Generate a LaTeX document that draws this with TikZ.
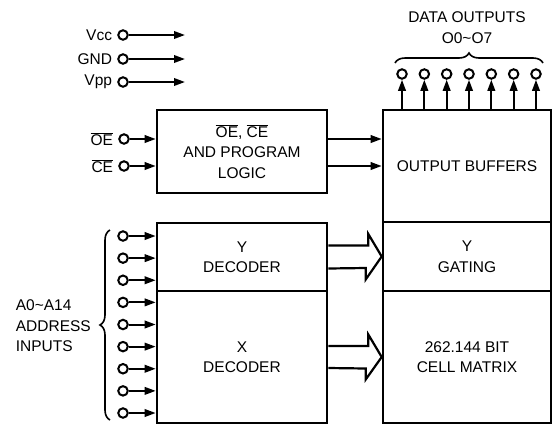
\documentclass[tikz,border=0pt]{standalone}
\usepackage{fontspec}
\setmainfont{Liberation Sans}
\usetikzlibrary{arrows.meta,calc,decorations.pathreplacing}
\begin{document}
\begin{tikzpicture}[x=1pt,y=-1pt,
  font=\fontsize{15.5}{20.5}\selectfont,
  blk/.style={draw,line width=2.6pt,inner sep=0pt,align=center},
  pin/.style={draw,circle,line width=2pt,minimum size=9.5pt,inner sep=0pt},
  sig/.style={line width=2pt,-{Triangle[length=11pt,width=7.5pt]}},
  bigarr/.style={line width=2.2pt,line join=miter},
  brc/.style={line width=1.6pt,decorate,decoration={brace,amplitude=10pt}},
  lbl/.style={inner sep=0pt}]
\useasboundingbox (0,0) rectangle (553,426);

% blocks
\node[blk,minimum width=170pt,minimum height=83pt] (logic) at (242,151.5)
  {\(\overline{\mbox{OE}}\), \(\overline{\mbox{CE}}\)\\AND PROGRAM\\LOGIC};
\node[blk,minimum width=170pt,minimum height=68pt] (ydec) at (242,257) {Y\\DECODER};
\node[blk,minimum width=170pt,minimum height=132pt] (xdec) at (242,357) {X\\DECODER};
\node[blk,minimum width=168pt,minimum height=112pt] (outbuf) at (467,166) {OUTPUT BUFFERS};
\node[blk,minimum width=168pt,minimum height=69pt] (ygate) at (467,256.5) {Y\\GATING};
\node[blk,minimum width=168pt,minimum height=132pt] (cell) at (467,357) {262.144 BIT\\CELL MATRIX};

% power pins
\foreach \n/\t/\y in {vcc/Vcc/35, gnd/GND/59, vpp/Vpp/82} {
  \node[pin,label={[lbl,label distance=5pt]left:\t}] (\n) at (123,\y) {};
  \coordinate (\n end) at (185,\y);
  \draw[sig] (\n) -- (\n end);
}

% control pins
\node[pin,label={[lbl,label distance=5pt]left:\(\overline{\mbox{OE}}\)}] (oe) at (124,139) {};
\node[pin,label={[lbl,label distance=5pt]left:\(\overline{\mbox{CE}}\)}] (ce) at (124,166) {};
\draw[sig] (oe) -- (oe -| logic.west);
\draw[sig] (ce) -- (ce -| logic.west);
\draw[sig] (oe -| logic.east) -- (oe -| outbuf.west);
\draw[sig] (ce -| logic.east) -- (ce -| outbuf.west);

% address pins
\foreach \i in {0,...,8} {
  \node[pin] (a\i) at (123,{236+22.125*\i}) {};
  \draw[sig] (a\i) -- (a\i -| xdec.west);
}
\coordinate (abot) at (110,420);
\coordinate (atop) at (110,230);
\draw[brc] (abot) -- (atop);
\node[lbl,anchor=east,align=left] (addr) at (91,326) {A0\textasciitilde A14\\ADDRESS\\INPUTS};

% data outputs
\foreach \i in {0,...,6} {
  \node[pin] (o\i) at ({402+22.33*\i},74) {};
  \draw[sig] (o\i |- outbuf.north) -- (o\i);
}
\coordinate (dl) at (395,63);
\coordinate (dr) at (543,63);
\draw[brc] (dl) -- (dr);
\node[lbl,align=center] (dout) at (467,27.5) {DATA OUTPUTS\\O0\textasciitilde O7};

% wide arrows
\draw[bigarr] ($(ydec.east)+(0,-11.5)$) -- ++(40,0) -- ++(0,-11.5) -- (ygate.west)
  -- ++(-16,23) -- ++(0,-11.5) -- ($(ydec.east)+(0,11.5)$);
\draw[bigarr] ($(xdec.east)+(0,-11)$) -- ++(40,0) -- ++(0,-11.5) -- (cell.west)
  -- ++(-16,22.5) -- ++(0,-11) -- ($(xdec.east)+(0,11)$);
\end{tikzpicture}
\end{document}
